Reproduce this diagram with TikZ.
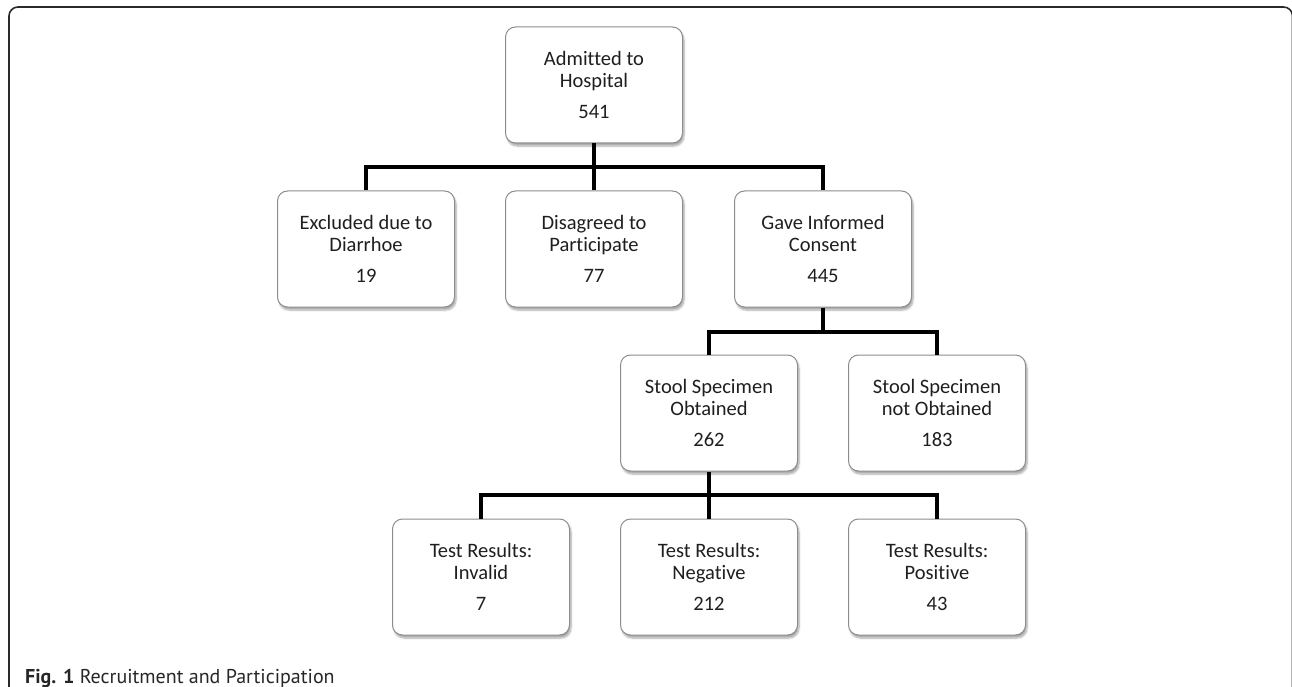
\documentclass[tikz,border=0pt]{standalone}
\usepackage{fontspec}
\setmainfont{Carlito}[Ligatures=CommonOff]
\newfontfamily\capfont{PT Sans}
\usetikzlibrary{shadows.blur}
\definecolor{boxline}{HTML}{8C8C8C}
\definecolor{framecol}{HTML}{2A2A2A}
\tikzset{
  flowbox/.style={draw=boxline, line width=1pt, fill=white, rounded corners=10pt,
    minimum width=177pt, minimum height=116pt, align=center, inner sep=0pt,
    font=\fontsize{20.5}{22.5}\selectfont, text=black!88,
    blur shadow={shadow xshift=1.5pt, shadow yshift=-3pt, shadow blur steps=6, shadow opacity=35}},
  conn/.style={line width=4pt, black, line join=miter},
  framestyle/.style={line width=1.6pt, framecol, rounded corners=9pt}
}
\newcommand{\numgap}{\\[8.5pt]}
\begin{document}
\begin{tikzpicture}[x=1pt,y=-1pt]
\useasboundingbox (0,0) rectangle (1292,687);
\clip (0,0) rectangle (1292,687);
\draw[framestyle] (9,700) -- (9,7) -- (1292.5,7) -- (1292.5,700);

\node[flowbox] (adm) at (594,85) {Admitted to\\Hospital\numgap 541};

\node[flowbox] (excl) at (366,249) {Excluded due to\\Diarrhoe\numgap 19};
\node[flowbox] (dis) at (594,249) {Disagreed to\\Participate\numgap 77};
\node[flowbox] (cons) at (823,249) {Gave Informed\\Consent\numgap 445};

\node[flowbox] (obt) at (709,413) {Stool Specimen\\Obtained\numgap 262};
\node[flowbox] (nobt) at (937,413) {Stool Specimen\\not Obtained\numgap 183};

\node[flowbox] (inv) at (481,577) {Test Results:\\Invalid\numgap 7};
\node[flowbox] (neg) at (709,577) {Test Results:\\Negative\numgap 212};
\node[flowbox] (pos) at (937,577) {Test Results:\\Positive\numgap 43};

\coordinate (h1) at (594,167);
\coordinate (h2) at (823,332);
\coordinate (h3) at (709,495);

\draw[conn] (adm.south) -- (dis.north);
\draw[conn] (excl.north) |- (h1) -| (cons.north);

\draw[conn] (cons.south) -- (h2);
\draw[conn] (obt.north) |- (h2) -| (nobt.north);

\draw[conn] (obt.south) -- (neg.north);
\draw[conn] (inv.north) |- (h3) -| (pos.north);

\node[anchor=base west, inner sep=0pt, font={\capfont\fontsize{20}{22}\selectfont}, text=black!85] (cap) at (25,683) {\textbf{Fig. 1} Recruitment and Participation};
\end{tikzpicture}
\end{document}
